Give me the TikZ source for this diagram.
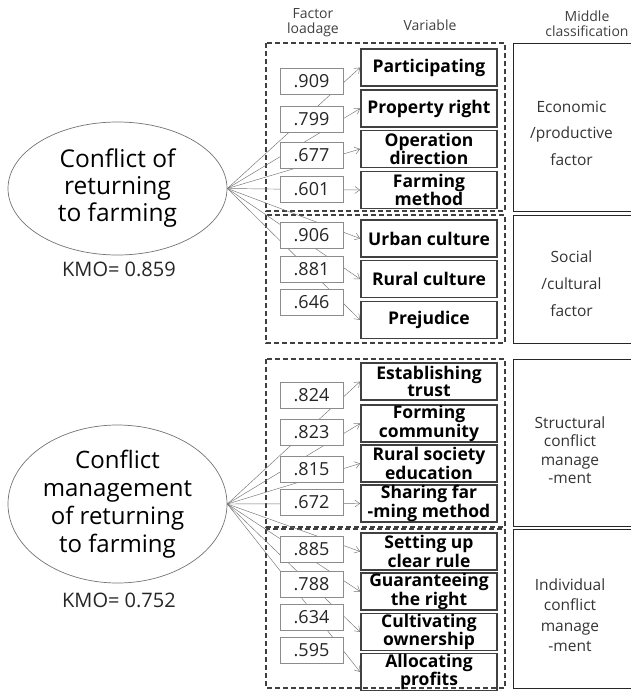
\documentclass[tikz,border=0pt]{standalone}
\usepackage{fontspec}
\setmainfont{Open Sans}
\usetikzlibrary{shapes.geometric,arrows.meta}
\begin{document}
\begin{tikzpicture}[x=1pt,y=-1pt,
  varbox/.style={draw=black!75,line width=1.7pt,minimum width=136pt,minimum height=37pt,inner sep=0pt,align=center,font=\fontsize{17.5}{17}\selectfont\bfseries},
  loadbox/.style={draw=black!45,line width=0.6pt,fill=white,minimum width=63pt,minimum height=26pt,inner sep=0pt,font=\fontsize{18}{18}\selectfont,text=black!85},
  dashbox/.style={draw=black!75,line width=1.1pt,dash pattern=on 5pt off 3pt},
  midbox/.style={draw=black!85,line width=0.8pt},
  midtext/.style={align=center,text=black!80},
  headtext/.style={align=center,text=black!75,font=\fontsize{14}{15}\selectfont},
  latent/.style={ellipse,draw=black!55,line width=0.7pt,minimum width=219pt,align=center,inner sep=0pt,font=\fontsize{24.5}{27}\selectfont},
  kmo/.style={font=\fontsize{20}{22}\selectfont,text=black!85},
  conn/.style={draw=black!55,line width=0.45pt,-{Straight Barb[length=5pt,width=7pt]}}
]
\useasboundingbox (0,0) rectangle (631,699);

% headers
\node[headtext] (hfl) at (313,23) {Factor\\loadage};
\node[headtext] (hvar) at (430,25) {Variable};
\node[headtext] (hmid) at (587,23.5) {Middle\\classification};

% dashed group boxes
\draw[dashbox] (266,43) rectangle (505,211);
\draw[dashbox] (266,215) rectangle (505,343);
\draw[dashbox] (266,359) rectangle (505,527);
\draw[dashbox] (266,529) rectangle (505,688);

% middle classification boxes (open to the right edge)
\draw[midbox] (631,43) -- (513,43) -- (513,211) -- (631,211);
\draw[midbox] (631,215) -- (513,215) -- (513,343) -- (631,343);
\draw[midbox] (631,359) -- (513,359) -- (513,526) -- (631,526);
\draw[midbox] (631,529) -- (513,529) -- (513,688) -- (631,688);

\node[midtext,font=\fontsize{15.5}{26.5}\selectfont] (m1) at (571.5,133) {Economic\\/productive\\factor};
\node[midtext,font=\fontsize{15.5}{27}\selectfont] (m2) at (571.5,284) {Social\\/cultural\\factor};
\node[midtext,font=\fontsize{15.5}{18.5}\selectfont] (m3) at (570,450) {Structural\\conflict\\manage\\-ment};
\node[midtext,font=\fontsize{15.5}{20.5}\selectfont] (m4) at (570,615) {Individual\\conflict\\manage\\-ment};

% latent variables
\node[latent,minimum height=133pt] (e1) at (117.5,188.5) {Conflict of\\returning\\to farming};
\node[kmo] (k1) at (119,269) {KMO=\ 0.859};
\node[latent,minimum height=158pt,font=\fontsize{24}{28}\selectfont] (e2) at (117.5,504) {Conflict\\management\\of returning\\to farming};
\node[kmo] (k2) at (119,600) {KMO=\ 0.752};

% variable boxes
\node[varbox] (v1) at (429,67.5) {Participating};
\node[varbox] (v2) at (429,108.5) {Property right};
\node[varbox] (v3) at (429,149) {Operation\\direction};
\node[varbox] (v4) at (429,190) {Farming\\method};
\node[varbox] (v5) at (429,238.5) {Urban culture};
\node[varbox] (v6) at (429,279) {Rural culture};
\node[varbox] (v7) at (429,320) {Prejudice};

\node[varbox] (w1) at (429,381.5) {Establishing\\trust};
\node[varbox] (w2) at (429,423.5) {Forming\\community};
\node[varbox] (w3) at (429,463.5) {Rural society\\education};
\node[varbox] (w4) at (429,503.5) {Sharing far\\-ming method};
\node[varbox] (w5) at (429,551.5) {Setting up\\clear rule};
\node[varbox] (w6) at (429,591.5) {Guaranteeing\\the right};
\node[varbox] (w7) at (429,632) {Cultivating\\ownership};
\node[varbox] (w8) at (429,672) {Allocating\\profits};

% connectors
\foreach \v in {v1,v2,v3,v4,v5,v6,v7}
  \draw[conn] (e1.east) -- (\v.west);
\foreach \w in {w1,w2,w3,w4,w5,w6,w7,w8}
  \draw[conn] (e2.east) -- (\w.west);

% factor loadings (drawn over the connectors)
\node[loadbox] (l1) at (311.5,81.5) {.909};
\node[loadbox] (l2) at (311.5,119) {.799};
\node[loadbox] (l3) at (311.5,155.5) {.677};
\node[loadbox] (l4) at (311.5,189) {.601};
\node[loadbox] (l5) at (311.5,235.5) {.906};
\node[loadbox] (l6) at (311.5,269.5) {.881};
\node[loadbox] (l7) at (311.5,302.5) {.646};

\node[loadbox] (n1) at (311.5,395.5) {.824};
\node[loadbox] (n2) at (311.5,432) {.823};
\node[loadbox] (n3) at (311.5,469) {.815};
\node[loadbox] (n4) at (311.5,502) {.672};
\node[loadbox] (n5) at (311.5,549.5) {.885};
\node[loadbox] (n6) at (311.5,584) {.788};
\node[loadbox] (n7) at (311.5,617) {.634};
\node[loadbox] (n8) at (311.5,650) {.595};
\end{tikzpicture}
\end{document}
